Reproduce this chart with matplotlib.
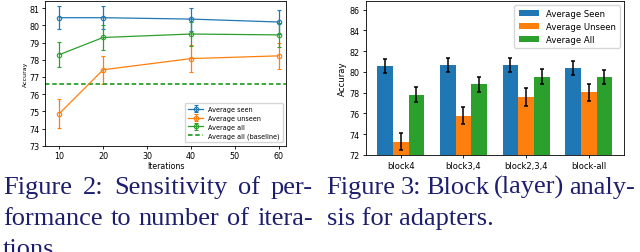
import matplotlib
matplotlib.use("Agg")
import matplotlib.pyplot as plt
import numpy as np

# ---- data: left chart (sensitivity to iterations)
iterations = [10, 20, 40, 60]
seen = [80.45, 80.45, 80.37, 80.20]
seen_err = [0.67, 0.67, 0.67, 0.68]
unseen = [74.87, 77.42, 78.07, 78.23]
unseen_err = [0.83, 0.83, 0.80, 0.77]
all_avg = [78.30, 79.30, 79.50, 79.45]
all_err = [0.73, 0.72, 0.72, 0.72]
baseline_all = 76.62

# ---- data: right chart (block analysis)
blocks = ["block4", "block3,4", "block2,3,4", "block-all"]
bar_seen = [80.55, 80.65, 80.70, 80.40]
bar_seen_err = [0.67, 0.65, 0.67, 0.65]
bar_unseen = [73.30, 75.80, 77.60, 78.05]
bar_unseen_err = [0.83, 0.83, 0.83, 0.80]
bar_all = [77.80, 78.80, 79.55, 79.50]
bar_all_err = [0.73, 0.72, 0.72, 0.70]

left_caption = ["Figure 2:  Sensitivity of per-", "formance to number of itera-", "tions."]
right_caption = ["Figure 3: Block (layer) analy-", "sis for adapters."]

blue, orange, green = "#1f77b4", "#ff7f0e", "#2ca02c"
navy = "#1e1e6e"

fig = plt.figure(figsize=(6.4, 2.53), dpi=100)

# ---------------- left
ax1 = fig.add_axes([45.3/640, 1-146.7/253, (286-45.3)/640, (146.7-1.7)/253])
kw = dict(marker="o", mfc="none", ms=3.2, mew=0.8, lw=0.9, capsize=1.3, elinewidth=0.9, capthick=0.9)
h1 = ax1.errorbar(iterations, seen, yerr=seen_err, color=blue, label="Average seen", **kw)
h2 = ax1.errorbar(iterations, unseen, yerr=unseen_err, color=orange, label="Average unseen", **kw)
h3 = ax1.errorbar(iterations, all_avg, yerr=all_err, color=green, label="Average all", **kw)
h4 = ax1.axhline(baseline_all, color=green, ls="--", lw=1.3, dashes=(2.5, 1.5), label="Average all (baseline)")
ax1.set_xlim(6.8, 61.7)
ax1.set_ylim(73, 81.44)
ax1.set_yticks(range(73, 82))
ax1.set_xticks([10, 20, 30, 40, 50, 60])
ax1.tick_params(labelsize=5.8, length=2.5, width=0.6, pad=1.5)
ax1.set_xlabel("Iterations", fontsize=5.7, labelpad=0.5)
ax1.set_ylabel("Accuray", fontsize=4.5, labelpad=1)
for s in ax1.spines.values():
    s.set_linewidth(0.6)
ax1.legend(handles=[h1, h2, h3, h4], loc="lower right", fontsize=4.7, handlelength=2.2,
           borderpad=0.5, labelspacing=0.45, frameon=True, fancybox=True)

# ---------------- right
ax2 = fig.add_axes([365.5/640, 1-156/253, (624-365.5)/640, (156-1.7)/253])
x = np.arange(len(blocks))
w = 0.25
ekw = dict(ecolor="black", capsize=1.7, error_kw=dict(elinewidth=1.1, capthick=1.1))
ax2.bar(x - w, bar_seen, w, yerr=bar_seen_err, color=blue, label="Average Seen", **ekw)
ax2.bar(x, bar_unseen, w, yerr=bar_unseen_err, color=orange, label="Average Unseen", **ekw)
ax2.bar(x + w, bar_all, w, yerr=bar_all_err, color=green, label="Average All", **ekw)
ax2.set_ylim(72, 86.87)
ax2.set_yticks(range(72, 87, 2))
ax2.set_xticks(x)
ax2.set_xticklabels(blocks)
ax2.tick_params(labelsize=5.8, length=2.5, width=0.6, pad=1.5)
ax2.tick_params(axis="x", labelsize=6.0)
ax2.set_ylabel("Accuray", fontsize=6.1, labelpad=2)
for s in ax2.spines.values():
    s.set_linewidth(0.6)
ax2.legend(loc="upper right", fontsize=6.1, handlelength=2.4, borderpad=0.5,
           labelspacing=0.45, frameon=True)

# ---------------- captions (justified like the paper's two-column text)
cap_kw = dict(family="Liberation Serif", fontsize=19, color=navy, va="baseline", ha="left")
fig.canvas.draw()
renderer = fig.canvas.get_renderer()


def place_line(line, x0, x1, y, justify):
    if not justify:
        fig.text(x0/640, 1-y/253, line, **cap_kw)
        return
    words = line.split()
    widths = []
    for wd in words:
        t = fig.text(0, 0, wd, **cap_kw)
        widths.append(t.get_window_extent(renderer).width)
        t.remove()
    gap = (x1 - x0 - sum(widths)) / (len(words) - 1)
    xp = x0
    for wd, wdw in zip(words, widths):
        fig.text(xp/640, 1-y/253, wd, **cap_kw)
        xp += wdw + gap


ys = [194, 225, 256]
for i, (line, y) in enumerate(zip(left_caption, ys)):
    place_line(line, 3, 313, y, i < len(left_caption) - 1)
for i, (line, y) in enumerate(zip(right_caption, ys)):
    place_line(line, 326.7, 635, y, i < len(right_caption) - 1)

fig.savefig("out.png", dpi=100)
